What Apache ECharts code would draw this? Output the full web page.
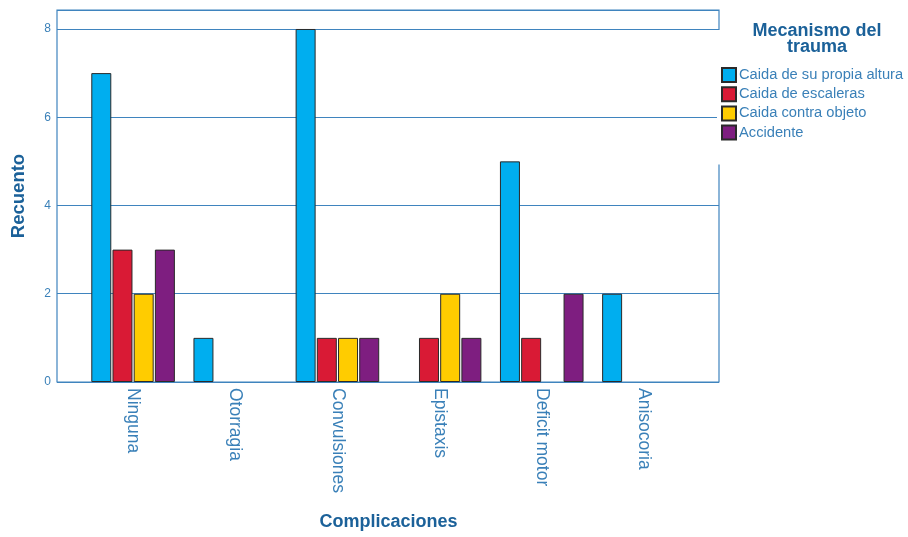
<!DOCTYPE html>
<html><head><meta charset="utf-8">
<script src="https://cdn.jsdelivr.net/npm/echarts@6/dist/echarts.min.js"></script>
<style>html,body{margin:0;padding:0;background:#fff}#c{width:908px;height:537px}</style>
</head><body><div id="c"></div>
<script>
const categories = ['Ninguna','Otorragia','Convulsiones','Epistaxis','Deficit motor','Anisocoria'];
const seriesNames = ['Caida de su propia altura','Caida de escaleras','Caida contra objeto','Accidente'];
const caidaPropia = [7,1,8,0,5,2];
const caidaEscaleras = [3,0,1,1,1,0];
const caidaObjeto = [2,0,1,2,0,0];
const accidente = [3,0,1,1,2,0];
const yTicks = [0,2,4,6,8];
const colors = ['#00AEEF','#D91A35','#FFCC00','#7E1E80'];

const values = [caidaPropia, caidaEscaleras, caidaObjeto, accidente];
const FONT = 'Liberation Sans';
const YMAX = 8.43;
const LINE = '#3F84BE';
const chart = echarts.init(document.getElementById('c'));
chart.setOption({
  animation:false,
  textStyle:{fontFamily:FONT},
  grid:[
    {left:57,right:189,top:10,bottom:155,show:true,borderColor:LINE,borderWidth:1.2,backgroundColor:'transparent'},
    {left:82,right:213,top:10,bottom:155}
  ],
  title:{text:'Mecanismo del\ntrauma',left:812,top:18,textAlign:'center',
    textStyle:{fontFamily:FONT,fontSize:18,fontWeight:'bold',color:'#1B6199',lineHeight:16}},
  legend:{orient:'vertical',left:717,top:30,padding:[37,4,24,4],backgroundColor:'#fff',
    itemWidth:14,itemHeight:14,itemGap:3.2,icon:'rect',
    textStyle:{fontFamily:FONT,fontSize:14.7,lineHeight:14,color:'#3A80B8',padding:[0,0,0,-2]},
    data:seriesNames},
  xAxis:[
    {type:'value',gridIndex:0,show:false,min:0,max:1},
    {type:'category',gridIndex:1,data:categories,
      axisLine:{show:false},axisTick:{show:false},
      axisLabel:{rotate:-90,margin:6,fontSize:17.5,color:'#3A80B8',fontFamily:FONT},
      name:'Complicaciones',nameLocation:'middle',nameGap:131,
      nameTextStyle:{fontFamily:FONT,fontSize:18,fontWeight:'bold',color:'#1B6199'}}
  ],
  yAxis:[
    {type:'value',gridIndex:0,min:0,max:YMAX,interval:2,
      axisLine:{show:false},axisTick:{show:false},
      axisLabel:{margin:6,fontSize:12,color:'#3A80B8',fontFamily:FONT,
        formatter:v=>yTicks.includes(v)?String(v):''},
      splitLine:{lineStyle:{color:LINE,width:1.2}},
      name:'Recuento',nameLocation:'middle',nameGap:29,nameRotate:90,
      nameTextStyle:{fontFamily:FONT,fontSize:18.5,fontWeight:'bold',color:'#1B6199'}},
    {type:'value',gridIndex:1,min:0,max:YMAX,show:false,splitLine:{show:false}}
  ],
  series: seriesNames.map((n,i)=>({
    name:n,type:'bar',xAxisIndex:1,yAxisIndex:1,
    data: values[i].map(v=> v===0 ? '-' : v),
    barWidth:20,barGap:'6%',
    itemStyle:{color:colors[i],borderColor:'#2a2a2a',borderWidth:1}
  }))
});
</script></body></html>
